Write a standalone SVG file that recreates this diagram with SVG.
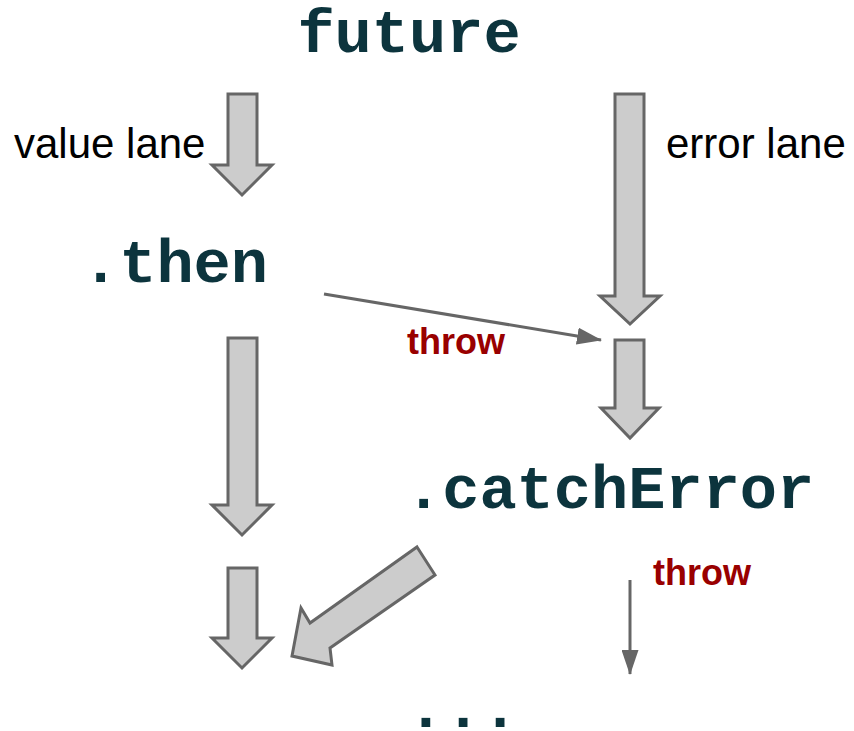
<svg xmlns="http://www.w3.org/2000/svg" width="854" height="731" viewBox="0 0 854 731">
<defs>
<style>
.code{font-family:"Liberation Mono","Courier New",monospace;font-weight:bold;font-size:62px;fill:#0c343d}
.lane{font-family:"Liberation Sans",Arial,sans-serif;font-size:42px;fill:#000}
.throw{font-family:"Liberation Sans",Arial,sans-serif;font-weight:bold;font-size:36px;fill:#990000}
.big{fill:#cccccc;stroke:#666666;stroke-width:3;stroke-linejoin:miter}
.thin{stroke:#666666;stroke-width:3;fill:none}
</style>
<marker id="ah" viewBox="0 0 25 17" refX="24" refY="8.5" markerWidth="25" markerHeight="17" markerUnits="userSpaceOnUse" orient="auto">
<path d="M0,0 L25,8.5 L0,17 z" fill="#666666"/>
</marker>
</defs>
<rect width="854" height="731" fill="#ffffff"/>

<g id="future"><text class="code" x="409" y="52" text-anchor="middle">future</text></g>
<g id="then"><text class="code" x="82" y="282">.then</text></g>
<g id="catchError"><text class="code" x="405" y="508">.catchError</text></g>
<g id="ellipsis"><text class="code" x="463" y="727" text-anchor="middle">...</text></g>

<g id="value-lane-label"><text class="lane" x="14" y="158">value lane</text></g>
<g id="error-lane-label"><text class="lane" x="666" y="158">error lane</text></g>

<g id="connectors">
<path class="big" d="M228,94 H257 V165 H272 L242,195 L212,165 H228 Z"/>
<path class="big" d="M615,94 H644 V296 H660 L630,324 L600,296 H615 Z"/>
<path class="big" d="M615,340 H644 V408 H659 L630,438 L601,408 H615 Z"/>
<path class="big" d="M228,338 H257 V505 H272 L242,535 L212,505 H228 Z"/>
<path class="big" d="M228,568 H257 V638 H272 L242,668 L212,638 H228 Z"/>
<path class="big" d="M417,547 L435,575 L330,648 L332,665 L292,656 L301,608 L310,623 Z"/>
<line class="thin" x1="324" y1="294" x2="601" y2="340" marker-end="url(#ah)"/>
<line class="thin" x1="630" y1="580" x2="630" y2="674" marker-end="url(#ah)"/>
<text class="throw" x="407" y="354">throw</text>
<text class="throw" x="653" y="585">throw</text>
</g>
</svg>
